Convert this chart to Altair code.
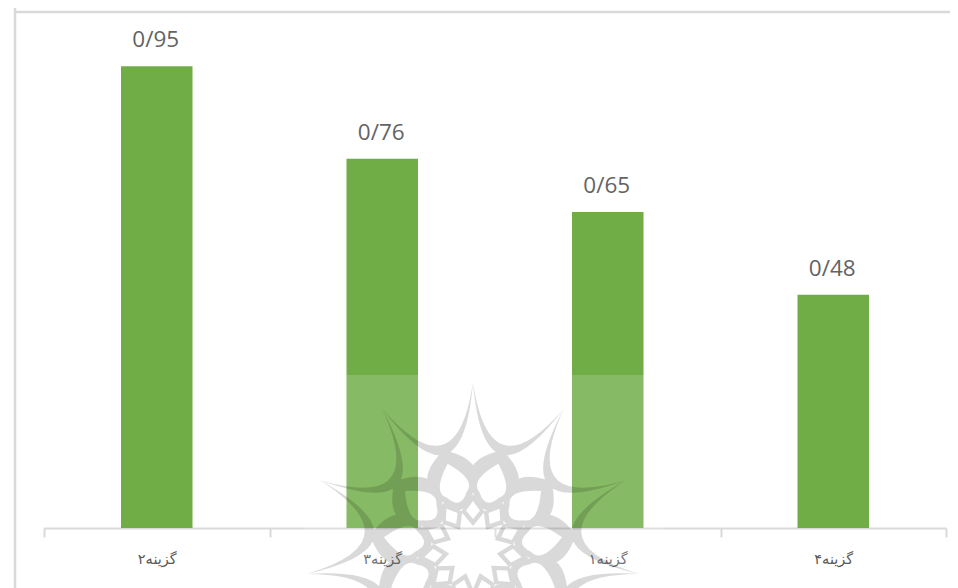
import math
import altair as alt
import pandas as pd

categories = ["گزینه۲", "گزینه۳", "گزینه۱", "گزینه۴"]
values = [0.95, 0.76, 0.65, 0.48]
value_labels = ["0/95", "0/76", "0/65", "0/48"]

df = pd.DataFrame({"cat": categories, "v": values, "label": value_labels})

W, H = 902, 516
LEFT, TOP = 36, 4
GREY = "#d9d9d9"


def pt(r, deg, unit=200.0):
    a = math.radians(deg)
    return f"{r * math.sin(a) / unit:.4f} {-r * math.cos(a) / unit:.4f}"


def logo_path(n=11, tip=168):
    step = 360 / n
    parts = []
    for k in range(n):
        a = k * step
        b = a + step
        m = a + step / 2
        # crescent between two neighbouring spikes
        parts.append(
            f"M{pt(tip, a)}Q{pt(58, m)} {pt(tip, b)}Q{pt(38, m)} {pt(tip, a)}Z"
        )
    for k in range(n):
        m = (k + 0.5) * step
        w = step * 0.8
        # petal ring: outer one way round, inner the other way
        parts.append(
            f"M{pt(104, m)}Q{pt(92, m + w)} {pt(56, m + w * .6)}Q{pt(30, m)} {pt(56, m - w * .6)}Q{pt(92, m - w)} {pt(104, m)}Z"
        )
        parts.append(
            f"M{pt(90, m)}Q{pt(70, m - w * .74)} {pt(58, m - w * .38)}Q{pt(42, m)} {pt(58, m + w * .38)}Q{pt(70, m + w * .74)} {pt(90, m)}Z"
        )
        # small diamond ring between the petals
        c = k * step
        parts.append(
            f"M{pt(56, c)}L{pt(40, c + 17)}L{pt(24, c)}L{pt(40, c - 17)}Z"
            f"M{pt(49, c)}L{pt(40, c - 10)}L{pt(31, c)}L{pt(40, c + 10)}Z"
        )
    return "".join(parts)


base = alt.Chart(df)
x = alt.X(
    "cat:N",
    sort=categories,
    title=None,
    scale=alt.Scale(paddingInner=0, paddingOuter=0),
    axis=alt.Axis(
        tickBand="extent",
        domainColor=GREY,
        domainWidth=2,
        tickColor=GREY,
        tickWidth=2,
        tickSize=9,
        labelAngle=0,
        labelFont="DejaVu Sans",
        labelFontSize=14.5,
        labelColor="#595959",
        labelPadding=15,
        grid=False,
    ),
)
y = alt.Y("v:Q", title=None, axis=None, scale=alt.Scale(domain=[0, 1.0617]))

one = alt.Chart(pd.DataFrame({"a": [0]}))
frame_left = one.mark_rule(color=GREY, strokeWidth=2.5).encode(
    x=alt.value(-29), y=alt.value(-4), y2=alt.value(H + 70)
)
frame_top = one.mark_rule(color=GREY, strokeWidth=2.5).encode(
    y=alt.value(0), x=alt.value(-30), x2=alt.value(W + 20)
)
bars = base.mark_bar(color="#70ad47", size=71.5).encode(x=x, y=y)
labels = base.mark_text(
    baseline="bottom", dx=-1, dy=-14, font="Open Sans", fontSize=22.5, color="#636363"
).encode(x=x, y=y, text="label:N")
veil = one.mark_rect(color="white", opacity=0.16).encode(
    x=alt.value(260), x2=alt.value(620), y=alt.value(363), y2=alt.value(H + 70)
)
logo = one.mark_point(
    filled=True, fill="black", stroke=None, opacity=0.15
).encode(
    x=alt.value(473 - 44),
    y=alt.value(550 - 12),
    shape=alt.value(logo_path()),
    size=alt.value(160000),
)

chart = (
    alt.layer(frame_left, frame_top, bars, labels, veil, logo)
    .properties(
        width=W,
        height=H,
        padding={"left": LEFT, "top": TOP, "right": 4, "bottom": 60},
        autosize=alt.AutoSizeParams(type="none"),
        background="white",
    )
    .configure_view(stroke=None)
)
chart.save("out.html", embed_options={"renderer": "svg", "actions": False})
